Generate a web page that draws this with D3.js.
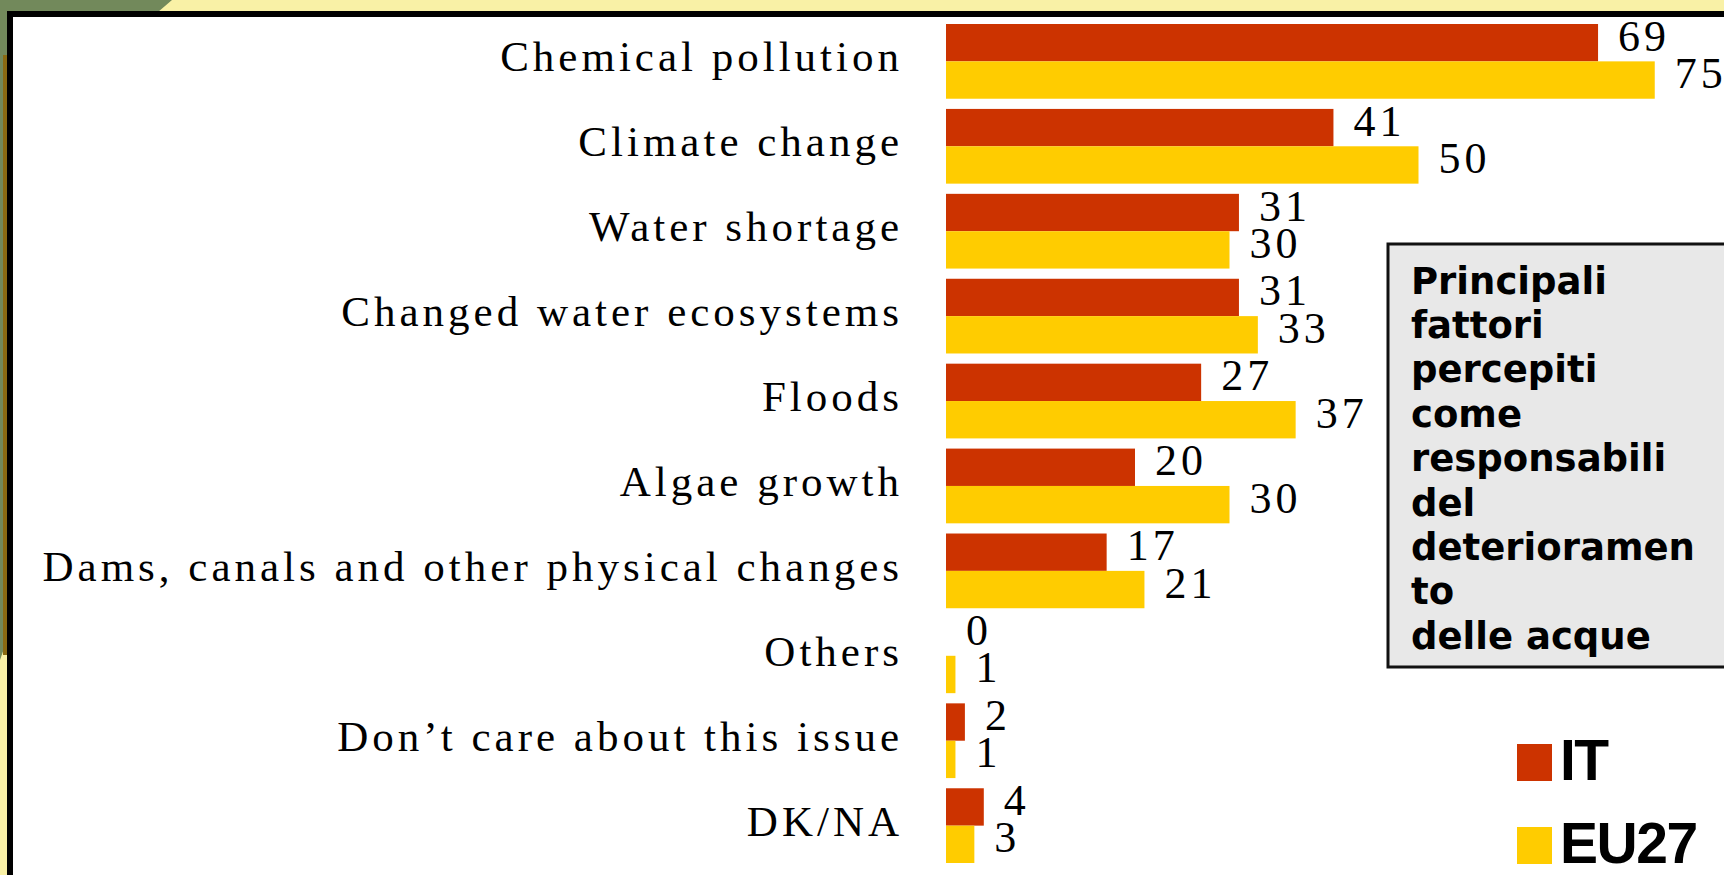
<!DOCTYPE html>
<html>
<head>
<meta charset="utf-8">
<script src="https://cdn.jsdelivr.net/npm/d3@7"></script>
<style>
  html, body { margin: 0; padding: 0; background: #f9f1a6; overflow: hidden; }
  svg { display: block; }
</style>
</head>
<body>
<svg id="chart" width="1724" height="875"></svg>
<script>
// ---- data ----
const categories = [
  "Chemical pollution",
  "Climate change",
  "Water shortage",
  "Changed water ecosystems",
  "Floods",
  "Algae growth",
  "Dams, canals and other physical changes",
  "Others",
  "Don\u2019t care about this issue",
  "DK/NA"
];
const seriesNames = ["IT", "EU27"];
const itValues = [69, 41, 31, 31, 27, 20, 17, 0, 2, 4];
const euValues = [75, 50, 30, 33, 37, 30, 21, 1, 1, 3];
const boxLines = ["Principali", "fattori", "percepiti", "come", "responsabili", "del", "deterioramen", "to", "delle acque"];
const colors = { IT: "#cc3300", EU27: "#ffcc00" };

const svg = d3.select("#chart");
const W = 1724, H = 875;

// ---- slide background ----
svg.append("rect").attr("width", W).attr("height", H).attr("fill", "#f9f1a6");
svg.append("path")
  .attr("d", "M0,0 L172,0 L158,12 L7,12 L7,640 L0,660 Z")
  .attr("fill", "#72895b");
svg.append("rect").attr("x", 3).attr("y", 55).attr("width", 4).attr("height", 600).attr("fill", "#8a6a12");
svg.append("rect")
  .attr("x", 10).attr("y", 14).attr("width", W + 40).attr("height", H + 40)
  .attr("fill", "#ffffff").attr("stroke", "#000").attr("stroke-width", 6);

// ---- scales ----
const x = d3.scaleLinear().domain([0, 75]).range([946, 946 + 75 * 9.45]);
const y = d3.scaleBand().domain(categories).range([24, 863]).paddingInner(0.12).paddingOuter(0);
const ySub = d3.scaleBand().domain(seriesNames).range([0, y.bandwidth()]);

const rows = categories.map((c, i) => ({ cat: c, values: [
  { key: "IT", v: itValues[i] },
  { key: "EU27", v: euValues[i] }
]}));

// ---- category labels (axis) ----
const axis = d3.axisLeft(y).tickSize(0).tickPadding(0);
const ax = svg.append("g").attr("transform", "translate(903,0)").call(axis);
ax.select(".domain").remove();
ax.selectAll("text")
  .attr("font-family", "'Liberation Serif', 'Times New Roman', serif")
  .attr("font-size", 43)
  .attr("letter-spacing", "4px")
  .attr("fill", "#000")
  .attr("dy", null)
  .attr("y", 10)
  .style("dominant-baseline", "alphabetic");

// ---- bars ----
const grp = svg.append("g").selectAll("g").data(rows).join("g")
  .attr("transform", d => `translate(0,${y(d.cat)})`);

grp.selectAll("rect").data(d => d.values).join("rect")
  .attr("x", x(0))
  .attr("y", d => ySub(d.key))
  .attr("width", d => x(d.v) - x(0))
  .attr("height", ySub.bandwidth())
  .attr("fill", d => colors[d.key]);

grp.selectAll("text").data(d => d.values).join("text")
  .attr("x", d => x(d.v) + 20)
  .attr("y", d => ySub(d.key) + ySub.bandwidth() / 2 + 8)
  .attr("font-family", "'Liberation Serif', 'Times New Roman', serif")
  .attr("font-size", 44)
  .attr("letter-spacing", "4px")
  .attr("fill", "#000")
  .text(d => d.v);

// ---- text box ----
const box = svg.append("g");
box.append("rect")
  .attr("x", 1388).attr("y", 244).attr("width", 400).attr("height", 423)
  .attr("fill", "#e8e8e8").attr("stroke", "#111").attr("stroke-width", 3);
box.append("text")
  .attr("font-family", "'DejaVu Sans', Verdana, sans-serif")
  .attr("font-weight", "bold")
  .attr("font-size", 37)
  .attr("fill", "#000")
  .selectAll("tspan").data(boxLines).join("tspan")
  .attr("x", 1411)
  .attr("y", (d, i) => 293.5 + i * 44.4)
  .text(d => d);

// ---- legend ----
const legendY = { IT: 744, EU27: 827 };
const leg = svg.append("g").selectAll("g").data(seriesNames).join("g");
leg.append("rect")
  .attr("x", 1517).attr("y", d => legendY[d])
  .attr("width", 35).attr("height", 37)
  .attr("fill", d => colors[d]);
leg.append("text")
  .attr("x", 1560).attr("y", d => legendY[d] + 36)
  .attr("font-family", "'Liberation Sans', Arial, sans-serif")
  .attr("font-weight", "bold")
  .attr("font-size", 57)
  .attr("letter-spacing", "-1.5px")
  .attr("fill", "#000")
  .text(d => d);
</script>
</body>
</html>
